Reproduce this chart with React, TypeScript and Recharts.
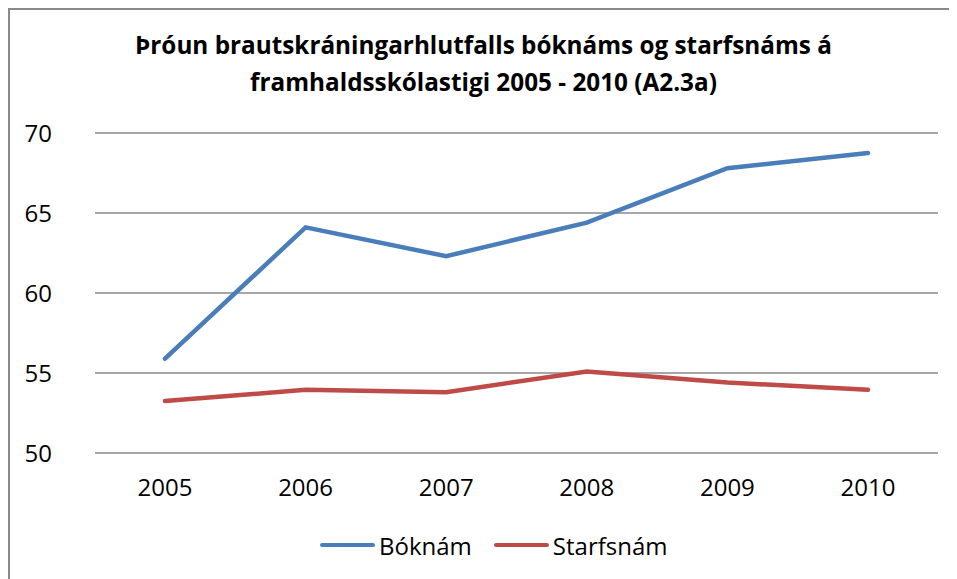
import { LineChart, Line, XAxis, YAxis, CartesianGrid, Legend } from "recharts";

const years = ["2005", "2006", "2007", "2008", "2009", "2010"];
const boknam = [55.9, 64.1, 62.3, 64.4, 67.8, 68.75];
const starfsnam = [53.25, 53.95, 53.8, 55.1, 54.4, 53.95];
const yTicks = [50, 55, 60, 65, 70];

const series = [
  { key: "boknam", name: "Bóknám", color: "#4A7EBB" },
  { key: "starfsnam", name: "Starfsnám", color: "#BE4B48" },
];

const data = years.map((year, i) => ({
  year,
  boknam: boknam[i],
  starfsnam: starfsnam[i],
}));

const font = "'Open Sans', sans-serif";

function LegendContent() {
  return (
    <div style={{ display: "flex", alignItems: "center", marginLeft: 310, height: 40 }}>
      {series.map((s) => (
        <div key={s.key} style={{ display: "flex", alignItems: "center", marginRight: 22 }}>
          <div
            style={{
              width: 55,
              height: 4,
              borderRadius: 2,
              background: s.color,
              marginRight: 4,
            }}
          />
          <span style={{ fontFamily: font, fontSize: 24, color: "#000" }}>{s.name}</span>
        </div>
      ))}
    </div>
  );
}

export default function App() {
  return (
    <div
      style={{
        position: "relative",
        width: 949,
        height: 571,
        boxSizing: "border-box",
        borderLeft: "2px solid #8a8a8a",
        borderTop: "2px solid #8a8a8a",
        background: "#fff",
        overflow: "hidden",
      }}
    >
      <div
        style={{
          position: "absolute",
          top: 16,
          left: 0,
          width: 947,
          textAlign: "center",
          fontFamily: font,
          fontWeight: 700,
          fontSize: 24.3,
          lineHeight: "37px",
          color: "#000",
        }}
      >
        Þróun brautskráningarhlutfalls bóknáms og starfsnáms á
        <br />
        framhaldsskólastigi 2005 - 2010 (A2.3a)
      </div>
      <LineChart
        width={947}
        height={569}
        data={data}
        margin={{ top: 123, right: 19, left: 0, bottom: 14 }}
      >
        <CartesianGrid vertical={false} stroke="#8a8a8a" strokeWidth={1.5} />
        <XAxis
          dataKey="year"
          axisLine={false}
          tickLine={false}
          tickSize={0}
          tickMargin={26}
          height={72}
          padding={{ left: 70, right: 70 }}
          tick={{ fill: "#000", fontSize: 24, fontFamily: font }}
        />
        <YAxis
          domain={[50, 70]}
          ticks={yTicks}
          width={85}
          axisLine={false}
          tickLine={false}
          tickSize={0}
          tickMargin={43}
          tick={{ fill: "#000", fontSize: 24, fontFamily: font }}
        />
        <Legend
          verticalAlign="bottom"
          wrapperStyle={{ height: 40 }}
          content={<LegendContent />}
        />
        {series.map((s) => (
          <Line
            key={s.key}
            type="linear"
            dataKey={s.key}
            name={s.name}
            stroke={s.color}
            strokeWidth={4.5}
            strokeLinecap="round"
            dot={false}
            activeDot={false}
            isAnimationActive={false}
          />
        ))}
      </LineChart>
    </div>
  );
}
